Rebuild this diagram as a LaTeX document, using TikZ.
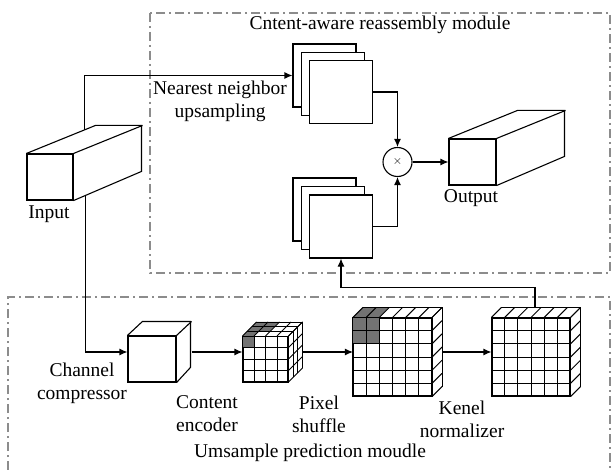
\documentclass[tikz,border=0pt]{standalone}
\usepackage{fontspec}
\setmainfont{Liberation Serif}
\usetikzlibrary{arrows.meta,calc}

\begin{document}
\begin{tikzpicture}[x=1pt, y=-1pt, line width=1.1pt,
    font=\fontsize{19.5}{23}\selectfont,
    face/.style = {draw, fill=white, inner sep=0pt},
    sheet/.style = {face, minimum size=63pt},
    frame/.style = {draw=black!45, line width=1.2pt, dash pattern=on 9pt off 4pt on 2pt off 4pt},
    arr/.style = {-{Latex[length=8pt,width=7pt]}},
    lbl/.style = {align=center, inner sep=0pt},
    dark/.style = {fill=black!55}]

\useasboundingbox (0,0) rectangle (612,470);

% the two modules
\draw[frame] (150,13) rectangle (610,273);
\draw[frame] (8,470) -- (8,297) -- (610,297) -- (610,470);
\node[lbl] (ttop) at (380,25) {Cntent-aware reassembly module};
\node[lbl] (tbot) at (310,453) {Umsample prediction moudle};

% input and output feature maps
\node[face, minimum width=46pt, minimum height=46pt] (in) at (50,177) {};
\draw (in.north west) -- ++(69,-28) -- ++(46,0) -- ++(0,46) -- (in.south east);
\draw (in.north east) -- ++(69,-28);
\node[lbl] (inlbl) at (49,214) {Input};

\node[face, minimum width=47pt, minimum height=46pt] (out) at (472.5,162) {};
\draw (out.north west) -- ++(69,-28) -- ++(47,0) -- ++(0,46) -- (out.south east);
\draw (out.north east) -- ++(69,-28);
\node[lbl] (outlbl) at (471,198) {Output};

% upsampled maps and kernels
\node[sheet] (up1) at (324.5,75.5) {};
\node[sheet] (up2) at (333,84) {};
\node[sheet] (up3) at (341,92) {};
\node[sheet] (lo1) at (324.5,209.5) {};
\node[sheet] (lo2) at (333,218) {};
\node[sheet] (lo3) at (341,226.5) {};
\node[lbl] (nnlbl) at (220,101.5) {Nearest neighbor\\upsampling};

\node[draw, circle, fill=white, minimum size=29pt, inner sep=0pt] (mul) at (397.5,162) {\fontsize{13}{13}\selectfont$\times$};

% channel compressor
\node[face, minimum width=48pt, minimum height=46pt] (cc) at (152,359) {};
\draw (cc.north west) -- ++(15,-14) -- ++(48,0) -- ++(0,46) -- (cc.south east);
\draw (cc.north east) -- ++(15,-14);
\node[lbl] (cclbl) at (82,383) {Channel\\compressor};

% content encoder
\node[draw, inner sep=0pt, minimum size=45pt] (ce) at (265.5,359) {};
\fill[dark] (ce.north west) rectangle ++(11.25,11.25);
\fill[dark] (ce.north west) -- ++(14,-14) -- ++(11.25,0) -- ++(-14,14) -- cycle;
\fill[dark] ($(ce.north west)+(15.92,-4.67)$) -- ++(9.33,-9.33) -- ++(11.25,0) -- ++(-9.33,9.33) -- cycle;
\begin{scope}[line width=0.9pt]
\foreach \i in {0,...,4} {
  \draw ($(ce.north west)!\i/4!(ce.north east)$) -- ($(ce.south west)!\i/4!(ce.south east)$);
  \draw ($(ce.north west)!\i/4!(ce.south west)$) -- ($(ce.north east)!\i/4!(ce.south east)$);
  \draw ($(ce.north west)!\i/4!(ce.north east)$) -- ++(14,-14);
  \draw ($(ce.north east)!\i/4!(ce.south east)$) -- ++(14,-14);
}
\foreach \j in {1,2,3}
  \draw ($(ce.north west)+{\j/3}*(14,-14)$) -- ($(ce.north east)+{\j/3}*(14,-14)$) -- ($(ce.south east)+{\j/3}*(14,-14)$);
\end{scope}
\node[lbl] (celbl) at (207,414) {Content\\encoder};

% pixel shuffle and kernel normalizer
\node[draw, inner sep=0pt, minimum size=78pt] (ps) at (392.5,357) {};
\node[draw, inner sep=0pt, minimum size=78pt] (kn) at (531,357) {};
\fill[dark] (ps.north west) rectangle ++(26,26);
\fill[dark] (ps.north west) -- ++(10,-10) -- ++(26,0) -- ++(-10,10) -- cycle;
\begin{scope}[line width=1pt]
\foreach \c in {ps,kn} {
  \foreach \i in {0,...,6} {
    \draw ($(\c.north west)!\i/6!(\c.north east)$) -- ($(\c.south west)!\i/6!(\c.south east)$);
    \draw ($(\c.north west)!\i/6!(\c.south west)$) -- ($(\c.north east)!\i/6!(\c.south east)$);
    \draw ($(\c.north west)!\i/6!(\c.north east)$) -- ++(10,-10);
    \draw ($(\c.north east)!\i/6!(\c.south east)$) -- ++(10,-10);
  }
  \draw ($(\c.north west)+(10,-10)$) -- ($(\c.north east)+(10,-10)$) -- ($(\c.south east)+(10,-10)$);
}
\end{scope}
\node[lbl] (pslbl) at (319,414) {Pixel\\shuffle};
\node[lbl] (knlbl) at (462,419) {Kenel\\normalizer};

% connections
\coordinate (inup) at ($(in.north west)+(58,-23.5)$);
\coordinate (inlow) at ($(in.south east)+(12,-4.8)$);
\draw[arr] (inup) |- (up1.west);
\draw[arr] (up3.east) -| (mul.north);
\draw[arr] (lo3.east) -| (mul.south);
\draw[arr] (mul.east) -- (out.west);
\draw[arr] (inlow) |- ([yshift=7pt]cc.west);
\draw[arr] ([xshift=15pt,yshift=7pt]cc.east) -- ([yshift=7pt]ce.west);
\draw[arr] ([xshift=14pt,yshift=7pt]ce.east) -- ([yshift=5pt]ps.west);
\draw[arr] ([xshift=10pt,yshift=5pt]ps.east) -- ([yshift=5pt]kn.west);
\draw[arr] ([xshift=4pt,yshift=10pt]kn.north) -- ++(0,-20) -| (lo3.south);
\end{tikzpicture}
\end{document}
